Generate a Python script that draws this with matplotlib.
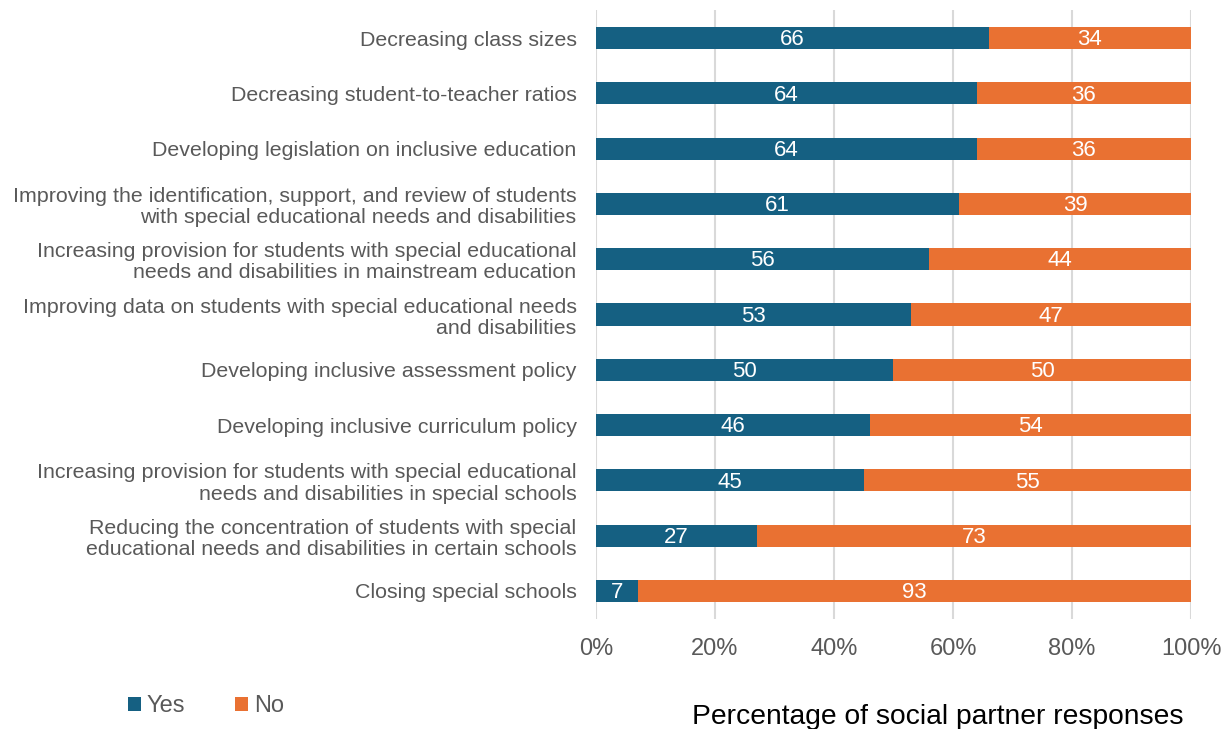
import matplotlib.pyplot as plt
import numpy as np

plt.rcParams['font.family'] = ['Liberation Sans', 'DejaVu Sans']

categories = [
    "Decreasing class sizes",
    "Decreasing student-to-teacher ratios",
    "Developing legislation on inclusive education",
    "Improving the identification, support, and review of students\nwith special educational needs and disabilities",
    "Increasing provision for students with special educational\nneeds and disabilities in mainstream education",
    "Improving data on students with special educational needs\nand disabilities",
    "Developing inclusive assessment policy",
    "Developing inclusive curriculum policy",
    "Increasing provision for students with special educational\nneeds and disabilities in special schools",
    "Reducing the concentration of students with special\neducational needs and disabilities in certain schools",
    "Closing special schools",
]
yes = [66, 64, 64, 61, 56, 53, 50, 46, 45, 27, 7]
no = [34, 36, 36, 39, 44, 47, 50, 54, 55, 73, 93]

blue = "#156082"
orange = "#E97132"
grey = "#595959"

fig = plt.figure(figsize=(12.28, 7.29), dpi=100)
ax = fig.add_axes([0.4853, 0.1514, 0.4846, 0.8343])

y = np.arange(len(categories))
b1 = ax.barh(y, yes, height=0.4, color=blue, label="Yes", zorder=3)
b2 = ax.barh(y, no, left=yes, height=0.4, color=orange, label="No", zorder=3)

# value labels in the middle of each segment
for i in range(len(categories)):
    ax.text(yes[i] / 2, y[i] + 0.03, str(yes[i]), ha='center', va='center',
            color='white', fontsize=16, zorder=4)
    ax.text(yes[i] + no[i] / 2, y[i] + 0.03, str(no[i]), ha='center', va='center',
            color='white', fontsize=16, zorder=4)

ax.set_ylim(len(categories) - 0.5, -0.5)
ax.set_xlim(0, 100)
ax.set_yticks(y)
ax.set_yticklabels(categories, fontsize=15.4, color=grey, linespacing=1.15)
ax.set_xticks(range(0, 101, 20))
ax.set_xticklabels([f"{v}%" for v in range(0, 101, 20)], fontsize=17, color=grey)
ax.tick_params(axis='y', length=0, pad=14)
ax.tick_params(axis='x', length=0, pad=14)
ax.grid(axis='x', color='#d9d9d9', linewidth=1.5, zorder=0)
for s in ax.spines.values():
    s.set_visible(False)

fig.text(0.764, 0.016, "Percentage of social partner responses", fontsize=20.3, color='black',
         ha='center', va='center')
fig.legend(handles=[b1, b2], loc='center left', bbox_to_anchor=(0.087, 0.031), ncol=2, frameon=False,
           fontsize=17, handlelength=0.55, handleheight=0.55, handletextpad=0.25, columnspacing=2.1,
           labelcolor=grey)

fig.savefig("out.png", dpi=100)
